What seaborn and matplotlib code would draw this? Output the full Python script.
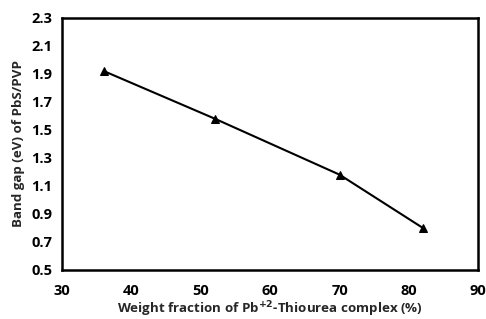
import matplotlib
matplotlib.use("Agg")
import matplotlib.pyplot as plt
import seaborn as sns
import pandas as pd

# data
weight_fraction = [36, 52, 70, 82]
band_gap = [1.92, 1.58, 1.18, 0.80]
x_ticks = [30, 40, 50, 60, 70, 80, 90]
y_ticks = [0.5, 0.7, 0.9, 1.1, 1.3, 1.5, 1.7, 1.9, 2.1, 2.3]

df = pd.DataFrame({"wf": weight_fraction, "eg": band_gap})

sns.set_style("white")
plt.rcParams["font.family"] = ["Open Sans", "DejaVu Sans"]
plt.rcParams["font.weight"] = "bold"

fig = plt.figure(figsize=(4.86, 3.19), dpi=100)
ax = fig.add_axes([0.128, 0.154, 0.856, 0.79])

sns.lineplot(data=df, x="wf", y="eg", ax=ax, color="black", linewidth=1.5,
             marker="^", markersize=6, markeredgecolor="black")

ax.set_xlim(30, 90)
ax.set_ylim(0.5, 2.3)
ax.set_xticks(x_ticks)
ax.set_yticks(y_ticks)
ax.set_yticklabels([f"{v:.1f}" for v in y_ticks])
ax.tick_params(axis="both", direction="out", length=4, width=1.5,
               labelsize=10.5, colors="black")
ax.tick_params(axis="x", pad=6)
ax.tick_params(axis="y", pad=3)
for lab in ax.get_xticklabels() + ax.get_yticklabels():
    lab.set_fontweight("bold")

for side in ["left", "bottom", "top", "right"]:
    ax.spines[side].set_visible(True)
    ax.spines[side].set_color("black")
    ax.spines[side].set_linewidth(1.8)

ax.set_xlabel("Weight fraction of Pb$^{\\mathbf{+2}}$-Thiourea complex (%)",
              fontsize=9.6, fontweight="bold", labelpad=1)
ax.set_ylabel("Band gap (eV) of PbS/PVP", fontsize=9.6, fontweight="bold",
              labelpad=5)

fig.savefig("out.png", dpi=100)
